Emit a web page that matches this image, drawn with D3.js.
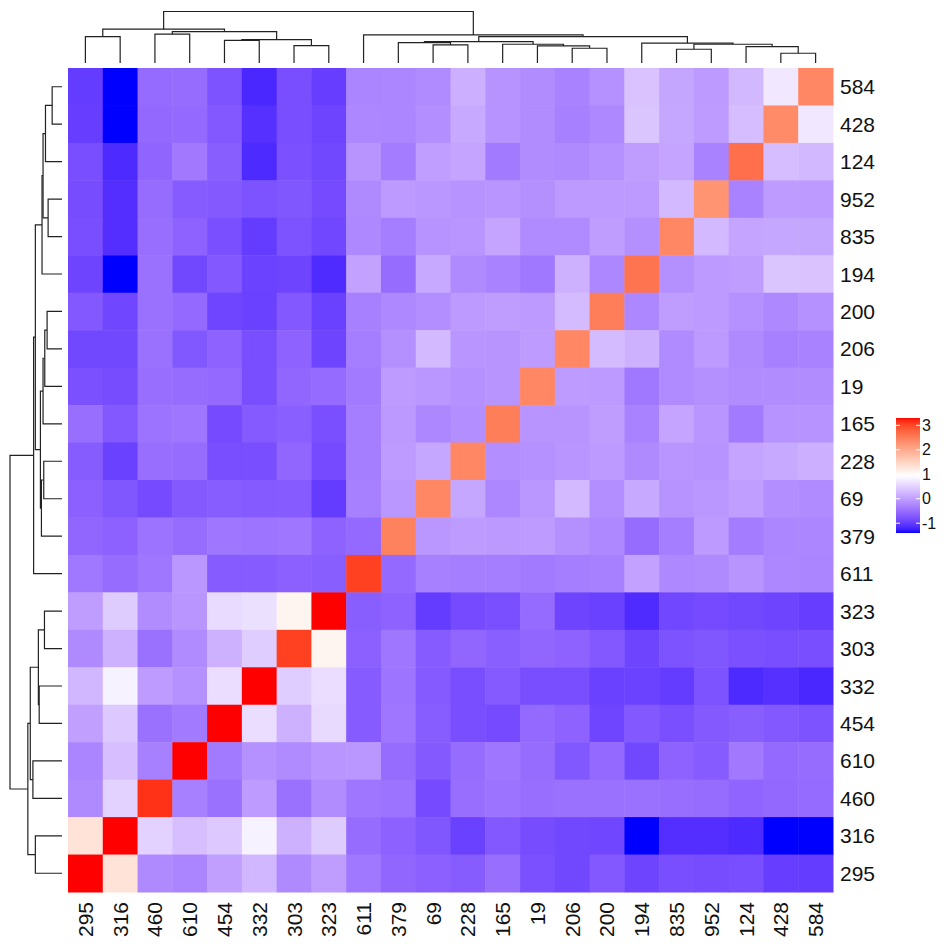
<!DOCTYPE html>
<html>
<head>
<meta charset="utf-8">
<script src="https://cdn.jsdelivr.net/npm/d3@7"></script>
<style>
  body { margin: 0; background: #fff; }
  text { font-family: "Liberation Sans", Arial, sans-serif; fill: #111; }
</style>
</head>
<body>
<script>
// column order (left to right) and row order (top to bottom) as drawn
const colLabels = ["295", "316", "460", "610", "454", "332", "303", "323", "611", "379", "69",
  "228", "165", "19", "206", "200", "194", "835", "952", "124", "428", "584"];
const rowLabels = ["584", "428", "124", "952", "835", "194", "200", "206", "19", "165", "228",
  "69", "379", "611", "323", "303", "332", "454", "610", "460", "316", "295"];

// one row per rowLabels entry, columns follow colLabels
const values = [
  [-1.0, -1.4, -0.54, -0.52, -0.78, -1.18, -0.82, -0.98, -0.28, -0.26, -0.21, 0.16, -0.12, -0.2, -0.3, -0.15, 0.35, 0.06, -0.05, 0.25, 0.72, 2.4],
  [-0.98, -1.4, -0.56, -0.55, -0.72, -1.11, -0.82, -0.92, -0.25, -0.26, -0.18, 0.1, -0.12, -0.2, -0.32, -0.24, 0.38, 0.08, -0.04, 0.3, 2.35, 0.72],
  [-0.82, -1.16, -0.6, -0.4, -0.66, -1.16, -0.8, -0.88, -0.11, -0.36, -0.01, 0.05, -0.38, -0.2, -0.22, -0.15, -0.02, 0.05, -0.3, 2.65, 0.3, 0.25],
  [-0.84, -1.12, -0.52, -0.69, -0.71, -0.78, -0.75, -0.85, -0.22, -0.05, -0.08, -0.12, -0.1, -0.16, -0.05, -0.05, -0.05, 0.26, 2.25, -0.3, -0.04, -0.05],
  [-0.82, -1.12, -0.5, -0.62, -0.81, -1.0, -0.78, -0.89, -0.24, -0.35, -0.12, -0.1, 0.05, -0.21, -0.21, -0.02, -0.16, 2.4, 0.26, 0.05, 0.08, 0.06],
  [-0.92, -1.4, -0.48, -0.88, -0.72, -0.94, -0.92, -1.15, 0.02, -0.52, 0.1, -0.22, -0.3, -0.41, 0.18, -0.25, 2.6, -0.16, -0.05, -0.02, 0.38, 0.35],
  [-0.72, -0.9, -0.48, -0.55, -0.91, -0.95, -0.72, -0.95, -0.32, -0.24, -0.18, -0.05, -0.02, -0.05, 0.28, 2.5, -0.25, -0.02, -0.05, -0.15, -0.24, -0.15],
  [-0.88, -0.88, -0.48, -0.74, -0.62, -0.82, -0.62, -0.92, -0.35, -0.16, 0.26, -0.1, -0.11, -0.03, 2.4, 0.28, 0.18, -0.21, -0.05, -0.22, -0.32, -0.3],
  [-0.8, -0.84, -0.5, -0.52, -0.55, -0.82, -0.58, -0.54, -0.38, -0.03, -0.08, -0.15, -0.11, 2.4, -0.03, -0.05, -0.41, -0.21, -0.16, -0.2, -0.2, -0.2],
  [-0.5, -0.72, -0.45, -0.42, -0.85, -0.7, -0.65, -0.81, -0.35, -0.06, -0.25, -0.18, 2.5, -0.11, -0.11, -0.02, -0.3, 0.05, -0.1, -0.38, -0.12, -0.12],
  [-0.68, -0.95, -0.5, -0.52, -0.82, -0.82, -0.58, -0.85, -0.35, -0.04, 0.08, 2.4, -0.18, -0.15, -0.1, -0.05, -0.22, -0.1, -0.12, 0.05, 0.1, 0.16],
  [-0.64, -0.75, -0.85, -0.71, -0.67, -0.7, -0.69, -1.0, -0.32, -0.08, 2.4, 0.08, -0.25, -0.08, 0.26, -0.18, 0.1, -0.12, -0.08, -0.01, -0.18, -0.21],
  [-0.58, -0.63, -0.45, -0.52, -0.42, -0.44, -0.42, -0.62, -0.55, 2.45, -0.08, -0.04, -0.06, -0.03, -0.16, -0.24, -0.52, -0.35, -0.05, -0.36, -0.26, -0.26],
  [-0.41, -0.52, -0.42, -0.08, -0.69, -0.69, -0.64, -0.66, 3.05, -0.55, -0.32, -0.35, -0.35, -0.38, -0.35, -0.32, 0.02, -0.24, -0.22, -0.11, -0.25, -0.28],
  [-0.02, 0.45, -0.2, -0.09, 0.6, 0.65, 1.08, 3.3, -0.66, -0.62, -1.0, -0.85, -0.81, -0.54, -0.92, -0.95, -1.15, -0.89, -0.85, -0.88, -0.92, -0.98],
  [-0.22, 0.18, -0.48, -0.21, 0.18, 0.46, 3.05, 1.08, -0.64, -0.42, -0.69, -0.58, -0.65, -0.58, -0.62, -0.72, -0.92, -0.78, -0.75, -0.8, -0.82, -0.82],
  [0.24, 0.82, -0.04, -0.15, 0.62, 3.3, 0.46, 0.62, -0.69, -0.44, -0.7, -0.82, -0.7, -0.82, -0.82, -0.95, -0.94, -1.0, -0.78, -1.16, -1.11, -1.18],
  [0.0, 0.42, -0.48, -0.38, 3.3, 0.62, 0.18, 0.58, -0.69, -0.42, -0.67, -0.82, -0.85, -0.55, -0.62, -0.91, -0.72, -0.81, -0.71, -0.66, -0.72, -0.78],
  [-0.28, 0.31, -0.32, 3.3, -0.38, -0.15, -0.21, -0.09, -0.08, -0.52, -0.71, -0.52, -0.42, -0.52, -0.74, -0.55, -0.88, -0.62, -0.69, -0.4, -0.55, -0.52],
  [-0.22, 0.5, 3.15, -0.32, -0.48, -0.04, -0.48, -0.2, -0.42, -0.45, -0.85, -0.5, -0.45, -0.5, -0.48, -0.48, -0.48, -0.5, -0.52, -0.6, -0.56, -0.54],
  [1.3, 3.3, 0.5, 0.31, 0.42, 0.82, 0.18, 0.45, -0.52, -0.63, -0.75, -0.95, -0.72, -0.84, -0.88, -0.9, -1.4, -1.12, -1.12, -1.16, -1.4, -1.4],
  [3.3, 1.3, -0.22, -0.28, 0.0, 0.24, -0.22, -0.02, -0.41, -0.58, -0.64, -0.68, -0.5, -0.8, -0.88, -0.72, -0.92, -0.82, -0.84, -0.82, -0.98, -1.0],
];

// clustering merges: [node, left, right, height]; same tree for rows and columns
const merges = [
  ["m1", "295", "316", 2.63],
  ["m2", "460", "610", 2.87],
  ["m3", "454", "332", 2.25],
  ["m4", "303", "323", 1.73],
  ["m5", "m3", "m4", 2.33],
  ["m6", "m2", "m5", 3.13],
  ["m7", "m1", "m6", 3.37],
  ["m8", "69", "228", 1.80],
  ["m9", "379", "m8", 2.03],
  ["m10", "206", "200", 1.47],
  ["m11", "19", "m10", 1.70],
  ["m12", "165", "m11", 1.87],
  ["m13", "m9", "m12", 2.13],
  ["m14", "835", "952", 1.37],
  ["m15", "428", "584", 0.97],
  ["m16", "124", "m15", 1.63],
  ["m17", "m14", "m16", 1.87],
  ["m18", "194", "m17", 1.97],
  ["m19", "m13", "m18", 2.63],
  ["m20", "611", "m19", 2.80],
  ["m21", "m7", "m20", 5.13],
];

const colorBreaks = [-1.4, 0.95, 3.3];
const colorStops = ["#0000ff", "#ffffff", "#ff0000"];
const legendTicks = [-1, 0, 1, 2, 3];

const width = 944, height = 951;
const hm = { left: 68, right: 833, top: 68, bottom: 892 };

const svg = d3.select("body").append("svg")
  .attr("width", width)
  .attr("height", height);

const x = d3.scaleBand().domain(colLabels).range([hm.left, hm.right]);
const y = d3.scaleBand().domain(rowLabels).range([hm.top, hm.bottom]);

const color = d3.scaleLinear()
  .domain(colorBreaks)
  .range(colorStops)
  .interpolate(d3.interpolateLab)
  .clamp(true);

// cells
const cells = values.flatMap((row, i) =>
  row.map((v, j) => ({ row: rowLabels[i], col: colLabels[j], value: v })));

svg.append("g")
  .selectAll("rect")
  .data(cells)
  .join("rect")
  .attr("x", (d) => x(d.col))
  .attr("y", (d) => y(d.row))
  .attr("width", x.bandwidth() + 0.5)
  .attr("height", y.bandwidth() + 0.5)
  .attr("fill", (d) => color(d.value));

// dendrogram tree from the merge table
const mergeMap = new Map(merges.map(([id, a, b, h]) => [id, { a, b, h }]));
function buildNode(name) {
  const m = mergeMap.get(name);
  if (!m) return { name, height: 0 };
  return { name, height: m.h, children: [buildNode(m.a), buildNode(m.b)] };
}
const treeData = buildNode(merges[merges.length - 1][0]);

function drawDendrogram(band, hScale, vertical) {
  const root = d3.hierarchy(treeData);
  root.eachAfter((n) => {
    n.pos = n.children
      ? d3.mean(n.children, (c) => c.pos)
      : band(n.data.name) + band.bandwidth() / 2;
  });
  const path = (n) => {
    const [c0, c1] = n.children;
    const h = hScale(n.data.height);
    const h0 = hScale(c0.data.height), h1 = hScale(c1.data.height);
    return vertical
      ? `M${c0.pos},${h0}V${h}H${c1.pos}V${h1}`
      : `M${h0},${c0.pos}H${h}V${c1.pos}H${h1}`;
  };
  svg.append("g")
    .selectAll("path")
    .data(root.descendants().filter((n) => n.children))
    .join("path")
    .attr("d", path)
    .attr("fill", "none")
    .attr("stroke", "#222")
    .attr("stroke-width", 1.2);
}

const maxH = treeData.height;
drawDendrogram(x, d3.scaleLinear().domain([0, maxH]).range([63, 11.5]), true);
drawDendrogram(y, d3.scaleLinear().domain([0, maxH]).range([62, 10]), false);

// row labels
svg.append("g")
  .selectAll("text")
  .data(rowLabels)
  .join("text")
  .attr("x", hm.right + 7)
  .attr("y", (d) => y(d) + y.bandwidth() / 2)
  .attr("dominant-baseline", "central")
  .attr("font-size", 21)
  .text((d) => d);

// column labels
svg.append("g")
  .selectAll("text")
  .data(colLabels)
  .join("text")
  .attr("transform", (d) => `translate(${x(d) + x.bandwidth() / 2},${hm.bottom + 10}) rotate(-90)`)
  .attr("text-anchor", "end")
  .attr("dominant-baseline", "central")
  .attr("font-size", 21)
  .text((d) => d);

// legend
const lg = { x: 896, w: 24, top: 418, bottom: 533 };
const ly = d3.scaleLinear().domain([colorBreaks[0], colorBreaks[2]]).range([lg.bottom, lg.top]);

const grad = svg.append("defs").append("linearGradient")
  .attr("id", "legend-grad")
  .attr("x1", 0).attr("y1", 1).attr("x2", 0).attr("y2", 0);
grad.selectAll("stop")
  .data(d3.ticks(colorBreaks[0], colorBreaks[2], 40))
  .join("stop")
  .attr("offset", (d) => (d - colorBreaks[0]) / (colorBreaks[2] - colorBreaks[0]))
  .attr("stop-color", (d) => color(d));

svg.append("rect")
  .attr("x", lg.x)
  .attr("y", lg.top)
  .attr("width", lg.w)
  .attr("height", lg.bottom - lg.top)
  .attr("fill", "url(#legend-grad)");

const tick = svg.append("g")
  .selectAll("g")
  .data(legendTicks)
  .join("g")
  .attr("transform", (d) => `translate(0,${ly(d)})`);

tick.append("line")
  .attr("x1", lg.x).attr("x2", lg.x + 4)
  .attr("stroke", "#fff");
tick.append("line")
  .attr("x1", lg.x + lg.w - 4).attr("x2", lg.x + lg.w)
  .attr("stroke", "#fff");
tick.append("text")
  .attr("x", lg.x + lg.w + 2)
  .attr("dominant-baseline", "central")
  .attr("font-size", 16)
  .text((d) => d);
</script>
</body>
</html>
